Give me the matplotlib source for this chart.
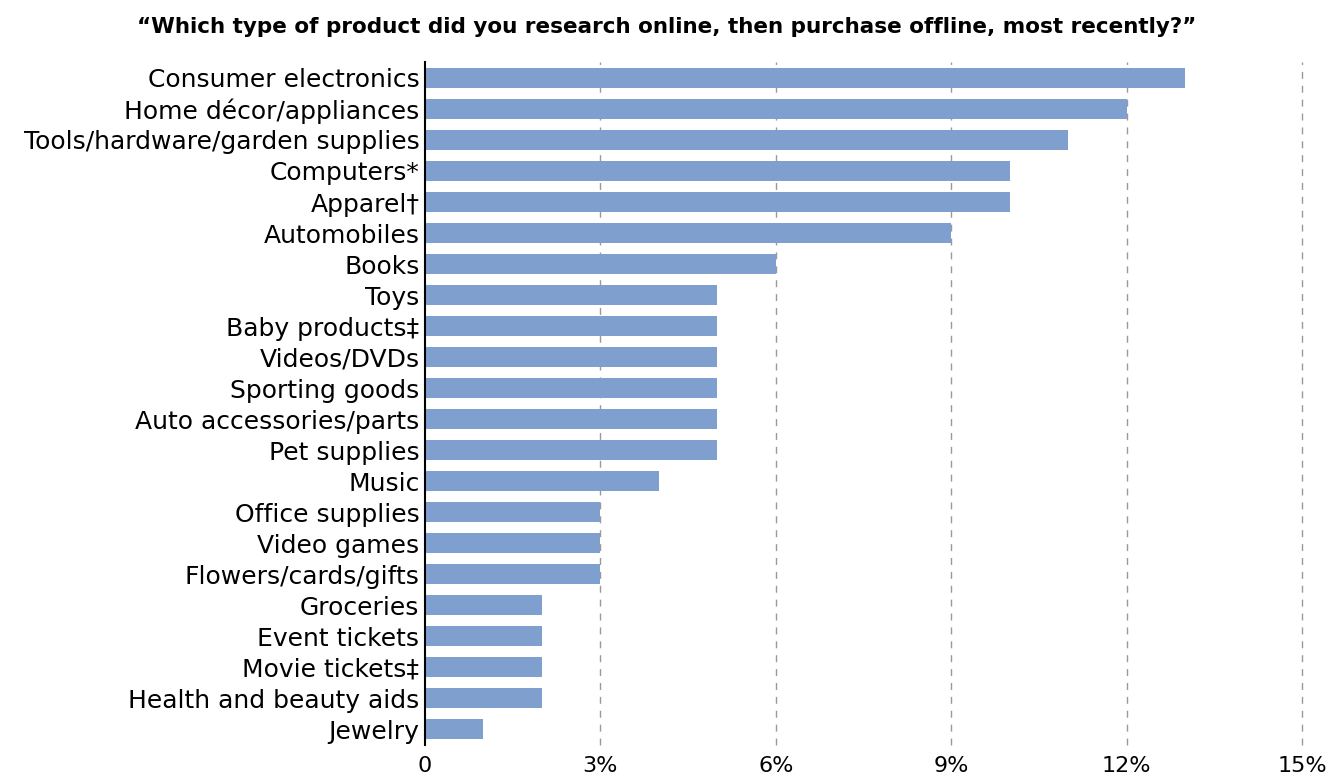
import matplotlib.pyplot as plt

categories = [
    "Consumer electronics", "Home décor/appliances", "Tools/hardware/garden supplies",
    "Computers*", "Apparel\u2020", "Automobiles", "Books", "Toys", "Baby products\u2021",
    "Videos/DVDs", "Sporting goods", "Auto accessories/parts", "Pet supplies", "Music",
    "Office supplies", "Video games", "Flowers/cards/gifts", "Groceries", "Event tickets",
    "Movie tickets\u2021", "Health and beauty aids", "Jewelry",
]
values = [13, 12, 11, 10, 10, 9, 6, 5, 5, 5, 5, 5, 5, 4, 3, 3, 3, 2, 2, 2, 2, 1]
ticks = [0, 3, 6, 9, 12, 15]
tick_labels = ["0", "3%", "6%", "9%", "12%", "15%"]

fig = plt.figure(figsize=(13.34, 7.8), dpi=100)
ax = fig.add_axes([0.3186, 0.045, 0.6574, 0.875])

y = list(range(len(categories)))
ax.barh(y, values, height=0.65, color="#7FA0CF", zorder=2)
ax.set_ylim(len(categories) - 0.5, -0.5)
ax.set_xlim(0, 15)

ax.set_yticks(y)
ax.set_yticklabels(categories, fontsize=18, family="DejaVu Sans")
ax.set_xticks(ticks)
ax.set_xticklabels(tick_labels, fontsize=16, family="DejaVu Sans")
ax.tick_params(axis="both", length=0, pad=4)
ax.tick_params(axis="x", pad=8)

for t in ticks[1:]:
    ax.axvline(t, color="#999999", linestyle=(0, (5, 5)), linewidth=1, zorder=1, clip_on=False)

for s in ["top", "right", "bottom"]:
    ax.spines[s].set_visible(False)
ax.spines["left"].set_linewidth(1.5)
ax.spines["left"].set_zorder(3)

fig.text(0.5, 0.965, "\u201cWhich type of product did you research online, then purchase offline, most recently?\u201d",
         ha="center", va="center", fontsize=15.5, fontweight="bold")

fig.savefig("out.png", dpi=100)
